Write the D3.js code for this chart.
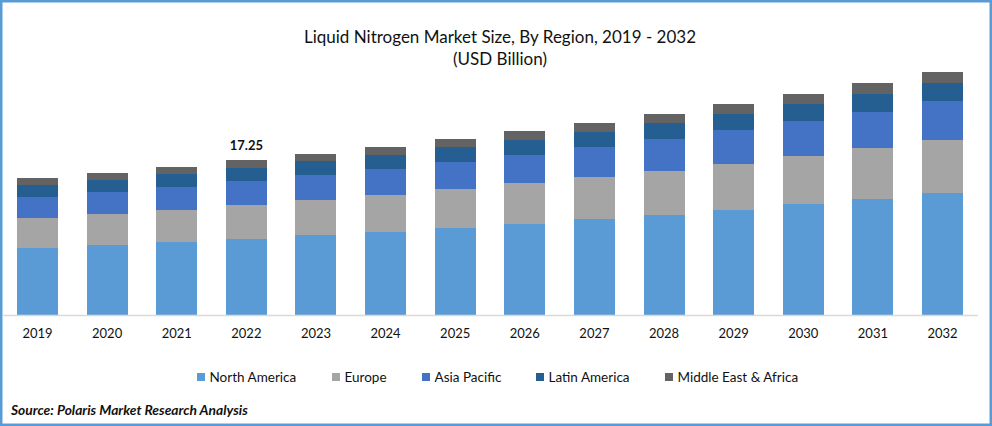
<!DOCTYPE html>
<html lang="en">
	<head>
		<meta charset="UTF-8">
		<title>Liquid Nitrogen Market Size</title>
		<script src="https://cdnjs.cloudflare.com/ajax/libs/d3/7.8.5/d3.min.js"></script>
		<style>
			html, body {margin: 0; padding: 0; background: #fff;}
			svg {display: block;}
			text {font-family: Lato, "Open Sans", sans-serif; fill: #111;}
		</style>
	</head>
	<body>
		<svg id="chart" width="992" height="426"></svg>
		<script>
var years = ["2019","2020","2021","2022","2023","2024","2025","2026","2027","2028","2029","2030","2031","2032"];
var regions = ["North America","Europe","Asia Pacific","Latin America","Middle East & Africa"];
var colors = ["#5b9bd5","#a5a5a5","#4472c4","#255e91","#636363"];

var northAmerica = [7.46,7.79,8.12,8.46,8.90,9.24,9.68,10.13,10.68,11.13,11.68,12.35,12.91,13.58];
var europe = [3.34,3.45,3.56,3.78,3.89,4.12,4.34,4.56,4.67,4.90,5.12,5.34,5.68,5.90];
var asiaPacific = [2.34,2.45,2.56,2.67,2.78,2.89,3.00,3.12,3.34,3.56,3.78,3.89,4.01,4.34];
var latinAmerica = [1.34,1.34,1.45,1.45,1.56,1.56,1.67,1.67,1.67,1.78,1.78,1.89,2.00,2.00];
var middleEast = [0.78,0.78,0.78,0.89,0.78,0.89,0.89,1.00,1.00,1.00,1.11,1.11,1.22,1.22];

var labelYear = "2022", labelText = "17.25";

var svg = d3.select("#chart");

var x = d3.scaleBand().domain(years).range([2.7, 977.3]).paddingInner(0.411).paddingOuter(0.2055);
var y = d3.scaleLinear().domain([0, 30]).range([315, 45.42]);

var rows = years.map(function(yr, i) {
	return {year: yr, "North America": northAmerica[i], "Europe": europe[i], "Asia Pacific": asiaPacific[i],
		"Latin America": latinAmerica[i], "Middle East & Africa": middleEast[i]};
});
var stacked = d3.stack().keys(regions)(rows);

svg.selectAll("g.series").data(stacked).join("g")
	.attr("class", "series")
	.attr("fill", function(d, i) {return colors[i];})
	.selectAll("rect").data(function(d) {return d;}).join("rect")
	.attr("shape-rendering", "crispEdges")
	.attr("x", function(d) {return x(d.data.year);})
	.attr("width", x.bandwidth())
	.attr("y", function(d) {return y(d[1]);})
	.attr("height", function(d) {return y(d[0]) - y(d[1]);});

// axis
var axis = svg.append("g").attr("transform", "translate(0,315)")
	.call(d3.axisBottom(x).tickSize(0).tickPadding(14));
axis.select(".domain").attr("stroke", "#d9d9d9").attr("stroke-width", 1.5);
axis.selectAll("text").style("font-family", "Lato").style("font-size", "13px").style("fill", "#111");

// data label over the 2022 bar
var labelTop = d3.sum(stacked, function(s) {return s[years.indexOf(labelYear)][1] - s[years.indexOf(labelYear)][0];});
svg.append("text")
	.attr("x", x(labelYear) + x.bandwidth()/2).attr("y", y(labelTop) - 10)
	.attr("text-anchor", "middle")
	.style("font-size", "13px").style("font-weight", "700")
	.text(labelText);

// title
svg.append("text").attr("x", 500).attr("y", 42.5).attr("text-anchor", "middle")
	.style("font-size", "17px").text("Liquid Nitrogen Market Size, By Region, 2019 - 2032");
svg.append("text").attr("x", 500).attr("y", 64.5).attr("text-anchor", "middle")
	.style("font-size", "17px").text("(USD Billion)");

// legend
var legendX = d3.scaleOrdinal().domain(regions).range([197, 332, 422, 536, 665]);
var legend = svg.selectAll("g.legend").data(regions).join("g")
	.attr("class", "legend")
	.attr("transform", function(d) {return "translate(" + legendX(d) + ",373)";});
legend.append("rect").attr("width", 8).attr("height", 8)
	.attr("fill", function(d, i) {return colors[i];});
legend.append("text").attr("x", 12.5).attr("y", 8.5)
	.style("font-size", "13.5px").text(function(d) {return d;});

// source
svg.append("text").attr("x", 11).attr("y", 415)
	.style("font-size", "13.8px").style("font-weight", "700").style("font-style", "italic")
	.text("Source: Polaris  Market Research Analysis");

// frame
svg.append("rect").attr("x", 1.25).attr("y", 1.25).attr("width", 989.5).attr("height", 423.5)
	.attr("fill", "none").attr("stroke", "#5b9bd5").attr("stroke-width", 2.5);
		</script>
	</body>
</html>
